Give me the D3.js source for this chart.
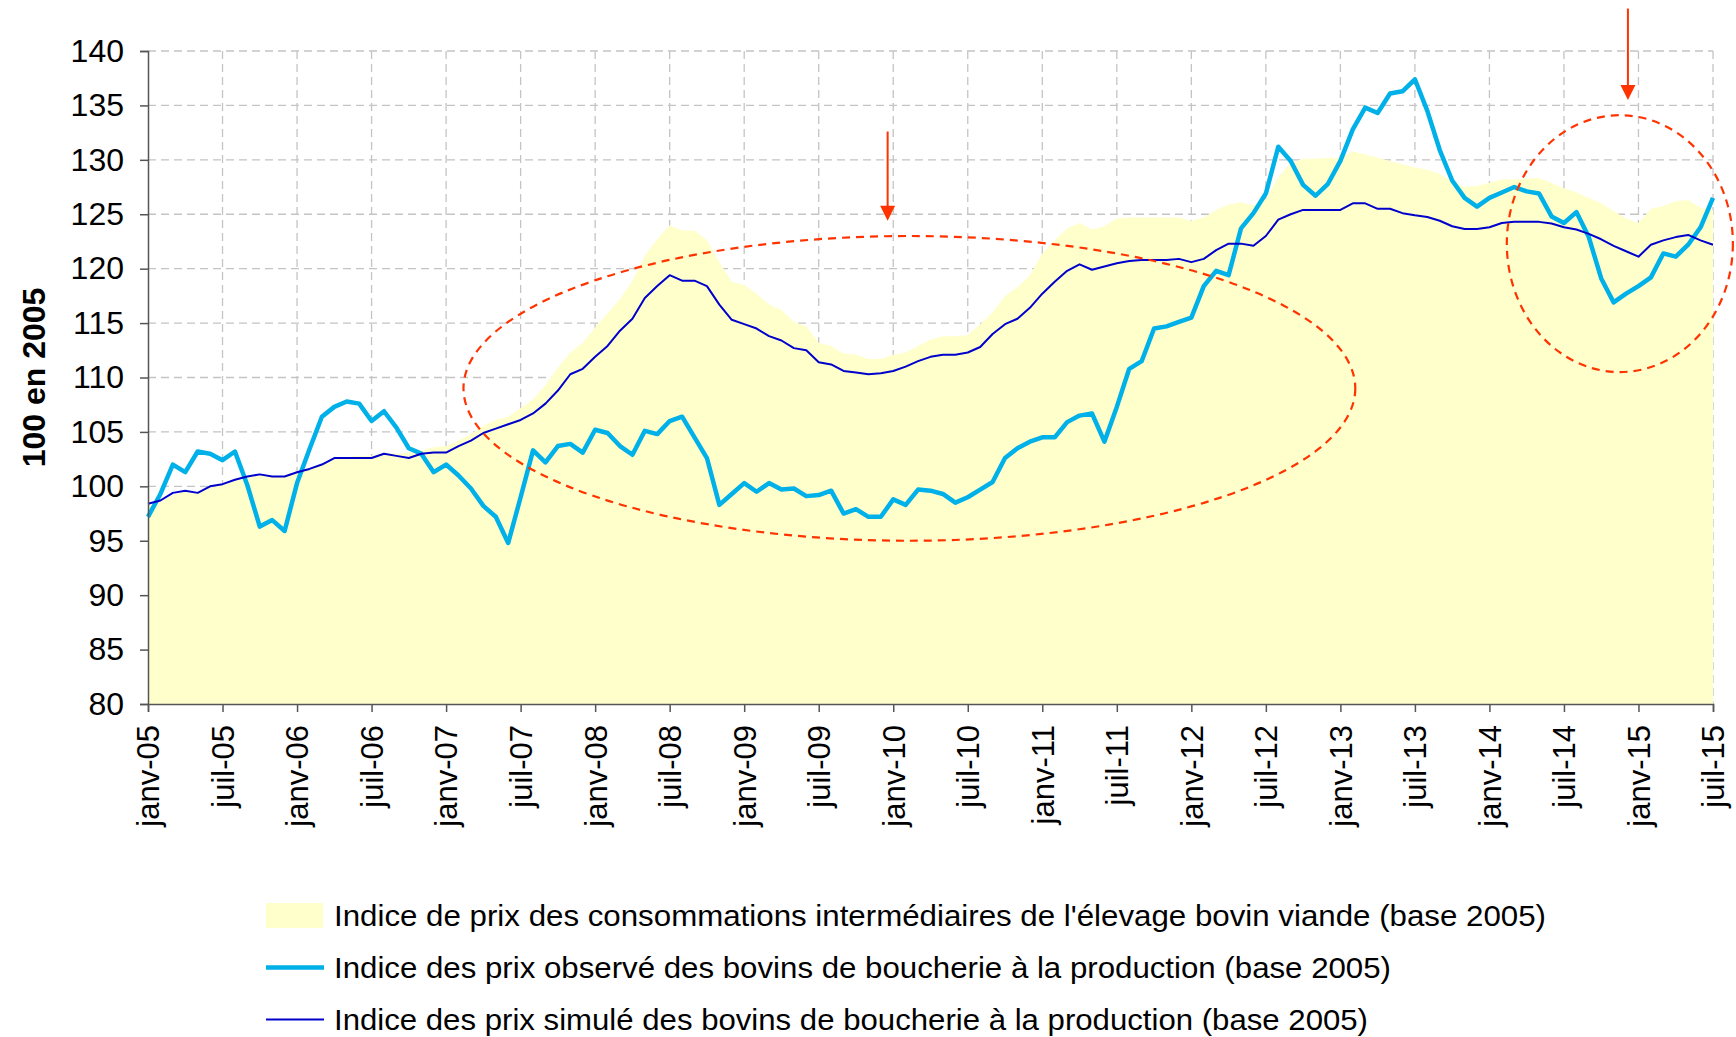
<!DOCTYPE html>
<html><head><meta charset="utf-8">
<script src="https://cdn.jsdelivr.net/npm/d3@7"></script>
<style>html,body{margin:0;padding:0;background:#fff;} svg{display:block;font-family:"Liberation Sans",Arial,sans-serif;}</style>
</head><body>
<svg id="chart" width="1736" height="1037"></svg>
<script>
// Month index 0 = janv-05 ... 126 = juil-15
const tickLabels = ["janv-05","juil-05","janv-06","juil-06","janv-07","juil-07","janv-08","juil-08","janv-09","juil-09","janv-10","juil-10","janv-11","juil-11","janv-12","juil-12","janv-13","juil-13","janv-14","juil-14","janv-15","juil-15"];
const yTicks = [80,85,90,95,100,105,110,115,120,125,130,135,140];

const coutsIntermediaires = [98.2,98.6,99.2,99.5,99.4,99.9,100.2,100.5,100.8,101.0,100.9,100.9,101.3,101.7,102.1,102.6,102.7,102.8,102.8,103.1,103.0,103.1,103.3,103.6,103.7,104.2,104.8,105.6,106.1,106.4,107.2,108.0,109.3,110.9,112.3,113.2,114.6,115.9,117.2,118.9,121.2,122.7,124.0,123.5,123.5,122.6,120.6,118.8,118.5,117.7,116.7,116.2,115.1,114.7,113.2,112.9,112.2,112.1,111.7,111.7,112.1,112.3,112.9,113.5,113.8,113.8,113.9,114.9,116.0,117.5,118.3,119.4,121.4,122.6,123.7,124.2,123.6,123.9,124.6,124.7,124.7,124.7,124.7,124.7,124.4,124.7,125.4,125.9,126.1,125.8,126.4,128.4,129.7,130.1,130.1,130.2,130.2,130.8,130.5,130.2,129.9,129.6,129.3,129.1,128.7,128.05,127.5,127.6,127.9,128.2,128.2,128.3,128.3,127.9,127.4,127.0,126.5,126.0,125.3,124.6,124.2,125.5,125.75,126.2,126.3,125.6,125.4];

const prixObserve = [97.2,99.3,102.0,101.3,103.2,103.0,102.4,103.2,100.1,96.3,96.9,95.9,100.3,103.4,106.4,107.3,107.8,107.6,106.0,106.9,105.4,103.5,103.0,101.3,102.0,101.0,99.8,98.2,97.2,94.8,99.0,103.3,102.2,103.7,103.9,103.1,105.2,104.9,103.7,102.9,105.1,104.8,106.0,106.4,104.5,102.6,98.3,99.3,100.3,99.5,100.3,99.7,99.8,99.1,99.2,99.6,97.5,97.9,97.2,97.2,98.8,98.3,99.7,99.6,99.3,98.5,99.0,99.7,100.4,102.6,103.5,104.1,104.5,104.5,105.9,106.5,106.7,104.1,107.3,110.8,111.5,114.5,114.7,115.1,115.5,118.4,119.8,119.4,123.7,125.1,126.9,131.2,129.9,127.7,126.7,127.8,129.9,132.8,134.8,134.3,136.1,136.3,137.4,134.5,130.9,128.1,126.5,125.7,126.5,127.0,127.5,127.1,126.9,124.8,124.2,125.2,122.9,119.1,116.9,117.7,118.4,119.2,121.4,121.1,122.2,123.8,126.5];

const prixSimule = [98.4,98.7,99.4,99.6,99.4,100.0,100.2,100.6,100.9,101.1,100.9,100.9,101.3,101.6,102.0,102.6,102.6,102.6,102.6,103.0,102.8,102.6,103.0,103.1,103.1,103.7,104.2,104.9,105.3,105.7,106.1,106.7,107.6,108.8,110.3,110.8,111.9,112.9,114.3,115.4,117.3,118.4,119.4,118.9,118.9,118.4,116.7,115.3,114.9,114.5,113.8,113.4,112.7,112.5,111.4,111.2,110.6,110.45,110.3,110.4,110.6,111.0,111.5,111.9,112.1,112.1,112.3,112.8,114.0,114.9,115.4,116.4,117.7,118.8,119.8,120.4,119.9,120.2,120.5,120.7,120.8,120.8,120.8,120.9,120.6,120.9,121.7,122.3,122.3,122.1,123.0,124.5,125.0,125.4,125.4,125.4,125.4,126.0,126.0,125.5,125.5,125.1,124.9,124.75,124.4,123.9,123.65,123.65,123.8,124.2,124.3,124.3,124.3,124.15,123.8,123.6,123.2,122.7,122.1,121.6,121.1,122.2,122.6,122.9,123.1,122.6,122.2];

const legendLabels = [
  "Indice de prix des consommations intermédiaires de l'élevage bovin viande (base 2005)",
  "Indice des prix observé des bovins de boucherie à la production (base 2005)",
  "Indice des prix simulé des bovins de boucherie à la production (base 2005)"
];
const yTitle = "100 en 2005";

// annotations in data units (month index, index value)
const ellipses = [
  {cx: 61.3, cy: 109.0, rx: 35.9, ry: 14.0},
  {cx: 118.5, cy: 122.3, rx: 9.1, ry: 11.8}
];
const arrows = [
  {m: 59.55, from: 132.6, to: 124.4},
  {m: 119.15, from: 143.9, to: 135.5}
];

(function () {
const svg = d3.select("#chart");
const mLeft = 148, mRight = 1713, mTop = 51, mBottom = 704;
const nMonths = prixObserve.length;

const x = d3.scaleLinear().domain([0, nMonths - 1]).range([mLeft, mRight]);
const y = d3.scaleLinear().domain([80, 140]).range([mBottom, mTop]);
const tickIdx = tickLabels.map((d, i) => i * 6);

const C_YELLOW = "#ffffcc", C_CYAN = "#00b0e8", C_BLUE = "#0000cc", C_RED = "#ff3300";
const C_GRID = "#c4c4c4", C_AXIS = "#555";

// gridlines
const grid = svg.append("g");
grid.selectAll("line.h").data(yTicks.filter(v => v > 80)).enter().append("line")
  .attr("x1", mLeft).attr("x2", mRight).attr("y1", d => y(d)).attr("y2", d => y(d))
  .attr("stroke", C_GRID).attr("stroke-width", 1.3).attr("stroke-dasharray", "8,5");
grid.selectAll("line.v").data(tickIdx.filter(d => d > 0)).enter().append("line")
  .attr("x1", d => x(d)).attr("x2", d => x(d)).attr("y1", mTop).attr("y2", mBottom)
  .attr("stroke", C_GRID).attr("stroke-width", 1.3).attr("stroke-dasharray", "8,5");

// area
const area = d3.area().x((d, i) => x(i)).y0(y(80)).y1(d => y(d));
svg.append("path").datum(coutsIntermediaires).attr("d", area).attr("fill", C_YELLOW);

// lines
const line = d3.line().x((d, i) => x(i)).y(d => y(d));
svg.append("path").datum(prixObserve).attr("d", line).attr("fill", "none")
  .attr("stroke", C_CYAN).attr("stroke-width", 4.5).attr("stroke-linejoin", "round");
svg.append("path").datum(prixSimule).attr("d", line).attr("fill", "none")
  .attr("stroke", C_BLUE).attr("stroke-width", 2).attr("stroke-linejoin", "round");

// axes
const yAxis = d3.axisLeft(y).tickValues(yTicks).tickSize(8).tickPadding(16);
const gy = svg.append("g").attr("transform", `translate(${mLeft},0)`).call(yAxis);
gy.select(".domain").attr("stroke", C_AXIS).attr("stroke-width", 1.5);
gy.selectAll(".tick line").attr("stroke", C_AXIS).attr("stroke-width", 1.5);
gy.selectAll(".tick text").attr("font-size", 32).attr("fill", "#000")
  .attr("font-family", "Liberation Sans, Arial, sans-serif");

const xAxis = d3.axisBottom(x).tickValues(tickIdx).tickSize(8).tickFormat((d, i) => tickLabels[i]);
const gx = svg.append("g").attr("transform", `translate(0,${mBottom})`).call(xAxis);
gx.select(".domain").attr("stroke", C_AXIS).attr("stroke-width", 1.5);
gx.selectAll(".tick line").attr("stroke", C_AXIS).attr("stroke-width", 1.5);
gx.selectAll(".tick text").attr("font-size", 31).attr("fill", "#000")
  .attr("font-family", "Liberation Sans, Arial, sans-serif")
  .attr("text-anchor", "end").attr("transform", "rotate(-90)")
  .attr("x", -21).attr("y", 0).attr("dy", "0.35em");

// y title
svg.append("text").attr("transform", `translate(45,${(mTop + mBottom) / 2}) rotate(-90)`)
  .attr("text-anchor", "middle").attr("font-size", 32).attr("font-weight", "bold").text(yTitle);

// annotations
const ann = svg.append("g");
ann.selectAll("ellipse").data(ellipses).enter().append("ellipse")
  .attr("cx", d => x(d.cx)).attr("cy", d => y(d.cy))
  .attr("rx", d => x(d.cx + d.rx) - x(d.cx)).attr("ry", d => y(d.cy - d.ry) - y(d.cy))
  .attr("fill", "none").attr("stroke", C_RED).attr("stroke-width", 2.2).attr("stroke-dasharray", "8,6");
arrows.forEach(a => {
  const ax = x(a.m), y1 = y(a.from), y2 = y(a.to);
  ann.append("line").attr("x1", ax).attr("x2", ax).attr("y1", y1).attr("y2", y2 - 12)
    .attr("stroke", C_RED).attr("stroke-width", 2);
  ann.append("path").attr("d", `M${ax - 7.5},${y2 - 15} L${ax + 7.5},${y2 - 15} L${ax},${y2} Z`)
    .attr("fill", C_RED);
});

// legend
const lg = svg.append("g");
const legendBase = [926, 978, 1030];
const legendLen = [1212, 1057, 1034];
lg.append("rect").attr("x", 266).attr("y", 903).attr("width", 57).attr("height", 25).attr("fill", C_YELLOW);
lg.append("line").attr("x1", 266).attr("x2", 324).attr("y1", 967.5).attr("y2", 967.5)
  .attr("stroke", C_CYAN).attr("stroke-width", 4.5);
lg.append("line").attr("x1", 266).attr("x2", 324).attr("y1", 1019.5).attr("y2", 1019.5)
  .attr("stroke", C_BLUE).attr("stroke-width", 2);
lg.selectAll("text").data(legendLabels).enter().append("text")
  .attr("x", 334).attr("y", (d, i) => legendBase[i])
  .attr("font-size", 30).attr("fill", "#000")
  .attr("textLength", (d, i) => legendLen[i]).attr("lengthAdjust", "spacingAndGlyphs")
  .text(d => d);
})();
</script>
</body></html>
